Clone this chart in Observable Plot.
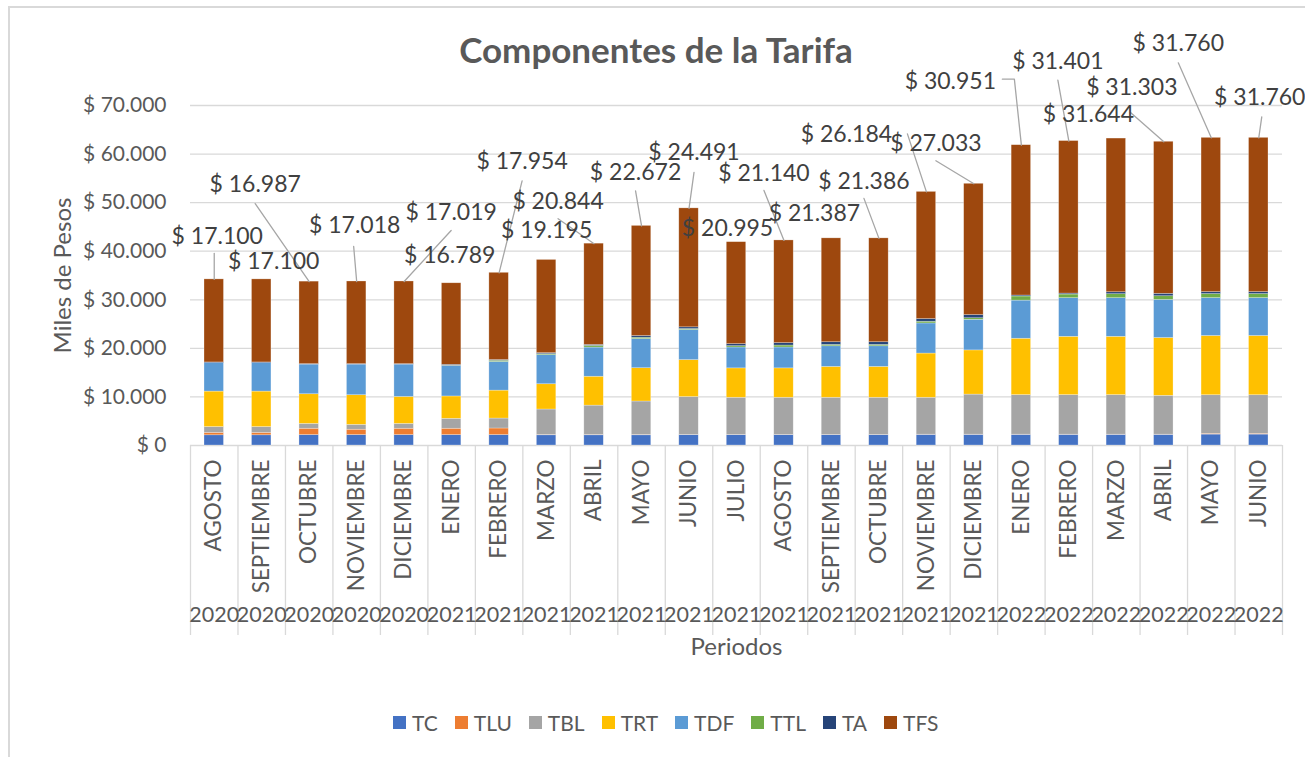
<!DOCTYPE html>
<html>
<head>
<meta charset="utf-8">
<script src="https://cdn.jsdelivr.net/npm/d3@7"></script>
<script src="https://cdn.jsdelivr.net/npm/@observablehq/plot@0.6"></script>
<style>
  html, body { margin: 0; padding: 0; background: #fff; }
  body { width: 1305px; height: 757px; position: relative; overflow: hidden; font-family: Lato, "Open Sans", sans-serif; }
  #frame { position: absolute; left: 8px; top: 6px; width: 1400px; height: 800px; border-left: 2px solid #d9d9d9; border-top: 2px solid #d9d9d9; box-sizing: border-box; }
  #chart { position: absolute; left: 0; top: 0; }
  #title { position: absolute; left: 0; width: 1312px; top: 28px; text-align: center; font-size: 35px; line-height: 42px; font-weight: bold; color: #595959; }
  #legend { position: absolute; left: 393px; top: 710px; display: flex; gap: 17px; font-size: 21px; color: #595959; align-items: center; }
  #legend .item { display: flex; align-items: center; }
  #legend .sw { width: 13px; height: 13px; margin-right: 6px; }
</style>
</head>
<body>
<div id="frame"></div>
<div id="chart"></div>
<div id="title">Componentes de la Tarifa</div>
<div id="legend"></div>
<script>
// ---------- data ----------
const months = ["AGOSTO","SEPTIEMBRE","OCTUBRE","NOVIEMBRE","DICIEMBRE","ENERO","FEBRERO","MARZO","ABRIL","MAYO","JUNIO","JULIO","AGOSTO","SEPTIEMBRE","OCTUBRE","NOVIEMBRE","DICIEMBRE","ENERO","FEBRERO","MARZO","ABRIL","MAYO","JUNIO"];
const years = ["2020","2020","2020","2020","2020","2021","2021","2021","2021","2021","2021","2021","2021","2021","2021","2021","2021","2022","2022","2022","2022","2022","2022"];
const seriesNames = ["TC","TLU","TBL","TRT","TDF","TTL","TA","TFS"];
const TC  = [2100,2100,2150,2150,2150,2150,2150,2100,2100,2100,2150,2150,2150,2150,2150,2200,2200,2200,2200,2200,2200,2250,2250];
const TLU = [500,500,1300,1100,1300,1300,1350,60,60,60,30,30,30,30,30,30,30,30,30,30,30,150,150];
const TBL = [1200,1200,1000,1000,1000,2050,2050,5250,6050,6900,7800,7650,7650,7650,7650,7600,8250,8150,8150,8150,8000,7950,7950];
const TRT = [7300,7300,6100,6100,5550,4600,5750,5200,5950,6850,7600,6050,6050,6350,6350,9100,9100,11600,12000,12000,11900,12200,12200];
const TDF = [5850,5850,6100,6300,6650,6250,5900,6000,6000,6000,6200,4300,4300,4250,4250,6200,6300,7850,7950,7950,7850,7800,7800];
const TTL = [0,0,0,0,0,60,250,200,350,280,200,270,400,280,280,350,320,850,750,820,750,830,830];
const TA  = [150,150,100,100,100,200,150,200,200,350,350,420,500,550,550,550,650,200,200,400,500,400,400];
const TFS = [17100,17100,16987,17018,17019,16789,17954,19195,20844,22672,24491,20995,21140,21387,21386,26184,27033,30951,31401,31644,31303,31760,31760];
const yTicks = [0,10000,20000,30000,40000,50000,60000,70000];

// ---------- layout (pixels) ----------
const colors = ["#4472C4","#ED7D31","#A5A5A5","#FFC000","#5B9BD5","#70AD47","#264478","#9E480E"];
const W = 1305, H = 700, mTop = 105, mBottom = 255, mLeft = 190, mRight = 23;
const yMax = 70000;
const pxPerIdx = (W - mLeft - mRight) / months.length;
const pxPerUnit = (H - mTop - mBottom) / yMax;
const barHalf = 0.205;
// data-label offsets from the top of each bar (px)
const labelDx = [3,12,-54,-2,47,-2,23,0,-36,-6,5,-9,-20,-17,-15,-80,-38,-71,-11,-28,-32,-33,1];
const labelDy = [-43,-18,-97,-56,-69,-28,-111,-29,-42,-53,-56,-14,-67,-25,-57,-57,-40,-64,-79,-24,-54,-94,-40];
// leader-line paths (px offsets from bar top), bar top appended
const leaders = [
  [0, [[0,-26]]], [2, [[-54,-78]]], [3, [[-3,-35]]], [4, [[47,-51]]], [6, [[23,-92]]],
  [8, [[-36,-25]]], [9, [[-6,-35]]], [10, [[5,-36]]], [12, [[-20,-50]]], [14, [[-15,-40]]],
  [15, [[-19,-58]]], [16, [[-38,-23]]], [17, [[-19,-66],[-7,-66]]], [18, [[-11,-61]]],
  [20, [[-33,-29]]], [21, [[-33,-75]]], [22, [[3,-21]]]
];

// ---------- derived tables ----------
const seriesValues = [TC,TLU,TBL,TRT,TDF,TTL,TA,TFS];
const segments = [];
const totals = months.map((m, i) => {
  let acc = 0;
  seriesNames.forEach((s, k) => {
    const v = seriesValues[k][i];
    segments.push({i, series: s, y1: acc, y2: acc + v});
    acc += v;
  });
  return acc;
});
const idx = months.map((_, i) => i);
const loc = d3.formatLocale({decimal: ",", thousands: ".", grouping: [3], currency: ["$", ""]});
const fmt = loc.format(",d");
const money = v => "$ " + fmt(v);

const labels = idx.map(i => ({
  x: i + labelDx[i] / pxPerIdx,
  y: totals[i] - labelDy[i] / pxPerUnit,
  text: money(TFS[i])
}));
const leaderPts = [];
leaders.forEach(([i, pts]) => {
  pts.forEach(([dx, dy]) => leaderPts.push({id: i, x: i + dx / pxPerIdx, y: totals[i] - dy / pxPerUnit}));
  leaderPts.push({id: i, x: i, y: totals[i]});
});
const boundaries = d3.range(months.length + 1).map(b => b - 0.5);
const dividerBottom = -190 / pxPerUnit;

const chart = Plot.plot({
  width: W, height: H,
  marginTop: mTop, marginBottom: mBottom, marginLeft: mLeft, marginRight: mRight,
  style: {fontFamily: "Lato, 'Open Sans', sans-serif", fontSize: "21px", color: "#595959", background: "transparent", overflow: "visible"},
  x: {domain: [-0.5, months.length - 0.5], axis: null},
  y: {domain: [0, yMax], ticks: yTicks, tickSize: 0, tickPadding: 24, tickFormat: money, label: null},
  color: {domain: seriesNames, range: colors},
  marks: [
    Plot.ruleY(yTicks, {stroke: "#d9d9d9", strokeWidth: 1.3}),
    Plot.ruleX(boundaries, {x: d => d, y1: 0, y2: dividerBottom, stroke: "#d9d9d9", strokeWidth: 1.3}),
    Plot.rect(segments, {x1: d => d.i - barHalf, x2: d => d.i + barHalf, y1: "y1", y2: "y2", fill: "series", stroke: "white", strokeOpacity: 0.45, strokeWidth: 0.6}),
    Plot.line(leaderPts, {x: "x", y: "y", z: "id", stroke: "#a6a6a6", strokeWidth: 1.3}),
    Plot.text(labels, {x: "x", y: "y", text: "text", fontSize: 23, fill: "#404040"}),
    Plot.text(idx, {x: d => d, y: () => 0, text: d => months[d], rotate: -90, textAnchor: "end", dy: 14, fontSize: 22.5, fill: "#595959"}),
    Plot.text(idx, {x: d => d, y: () => 0, text: d => years[d], dy: 170, fontSize: 21.5, fill: "#595959"}),
    Plot.text(["Miles de Pesos"], {x: () => -0.5, y: () => yMax / 2, text: d => d, dx: -127, rotate: -90, textAnchor: "middle", lineAnchor: "middle", fontSize: 24, fill: "#595959"}),
    Plot.text(["Periodos"], {frameAnchor: "bottom", dy: 209, fontSize: 24, fill: "#595959"})
  ]
});
document.getElementById("chart").appendChild(chart);

const legend = document.getElementById("legend");
seriesNames.forEach((s, k) => {
  const it = document.createElement("div");
  it.className = "item";
  it.innerHTML = `<span class="sw" style="background:${colors[k]}"></span><span>${s}</span>`;
  legend.appendChild(it);
});
</script>
</body>
</html>
